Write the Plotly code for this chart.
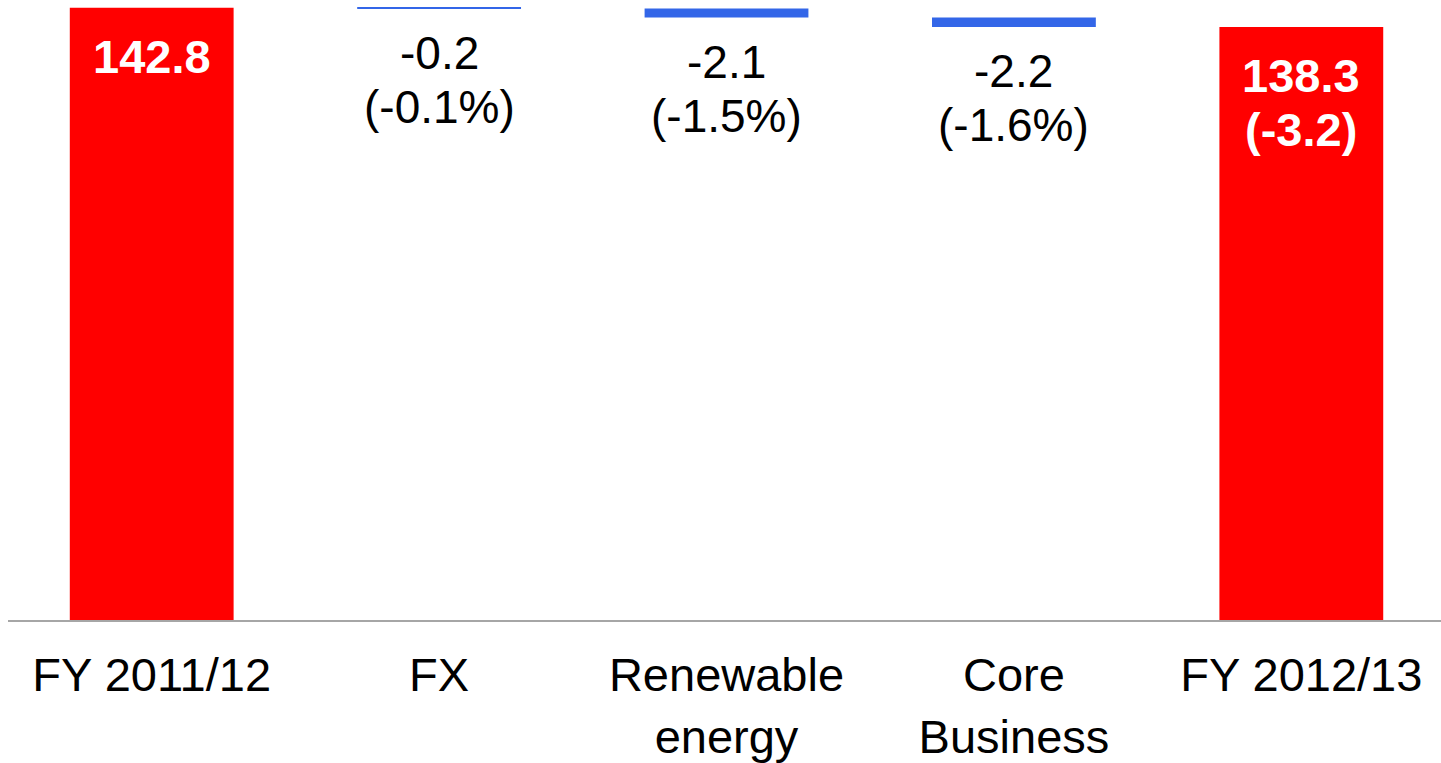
import plotly.graph_objects as go

categories = ["FY 2011/12", "FX", "Renewable<br>energy", "Core<br>Business", "FY 2012/13"]
measures = ["absolute", "relative", "relative", "relative", "total"]
values = [142.8, -0.2, -2.1, -2.2, 138.3]
label_line1 = ["142.8", "-0.2", "-2.1", "-2.2", "138.3"]
label_line2 = ["", "(-0.1%)", "(-1.5%)", "(-1.6%)", "(-3.2)"]

RED = "#ff0000"
BLUE = "#3366e8"
FONT = "Liberation Sans, Arial, sans-serif"

fig = go.Figure(go.Waterfall(
    x=categories,
    y=[v if m != "total" else 0 for v, m in zip(values, measures)],
    measure=measures,
    width=0.57,
    connector=dict(visible=False),
    totals=dict(marker=dict(color=RED)),
    decreasing=dict(marker=dict(color=BLUE)),
    increasing=dict(marker=dict(color=BLUE)),
    showlegend=False,
    textinfo="none",
))

# label anchors derived from the running total
running = 0.0
for cat, m, v, l1, l2 in zip(categories, measures, values, label_line1, label_line2):
    if m == "absolute":
        running = v
        anchor_y, is_total = running, True
    elif m == "total":
        anchor_y, is_total = running, True
    else:
        running += v
        anchor_y, is_total = running, False
    base_shift = -20 if is_total else -16
    txt_font = dict(family=FONT, size=47 if is_total else 46,
                    color="white" if is_total else "black")
    for i, line in enumerate([l1, l2]):
        if not line:
            continue
        fig.add_annotation(
            x=cat, y=anchor_y, xref="x", yref="y",
            text=f"<b>{line}</b>" if is_total else line,
            showarrow=False, yanchor="top", xanchor="center",
            yshift=base_shift - 54 * i,
            font=txt_font,
        )

fig.update_layout(
    width=1441, height=763,
    margin=dict(l=8, r=0, t=0, b=140),
    plot_bgcolor="white", paper_bgcolor="white",
    font=dict(family=FONT, size=47, color="black"),
    xaxis=dict(
        range=[-0.5, 4.486],
        showline=True, linecolor="#a6a6a6", linewidth=2,
        showgrid=False, zeroline=False, ticks="",
        ticklabelstandoff=13,
        tickfont=dict(family=FONT, size=47, color="black"),
    ),
    yaxis=dict(
        range=[0, 144.6],
        visible=False, showgrid=False, zeroline=False,
    ),
)

fig.write_html("out.html")
